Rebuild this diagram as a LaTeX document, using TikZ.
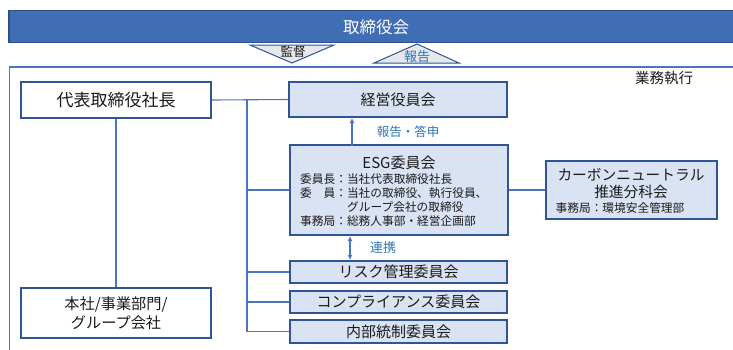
\documentclass[tikz,border=0pt]{standalone}
\usepackage{fontspec}
\setmainfont{Noto Sans CJK JP}
\usetikzlibrary{arrows.meta}
\definecolor{navy}{HTML}{2F5597}
\definecolor{barfill}{HTML}{3F6EB5}
\definecolor{barborder}{HTML}{2E4F8C}
\definecolor{boxfill}{HTML}{DAE3F3}
\definecolor{linecol}{HTML}{4A76C0}
\definecolor{bluetext}{HTML}{2E75B6}
\definecolor{trifill}{HTML}{E6E8EC}
\definecolor{txt}{HTML}{1A1A1A}
\begin{document}
\begin{tikzpicture}[x=1pt,y=-1pt,
  box/.style={draw=navy, line width=2.2pt, fill=boxfill, inner sep=0pt, text=txt, font=\fontsize{15}{17}\selectfont},
  wbox/.style={box, fill=white},
  conn/.style={draw=linecol, line width=1.1pt},
  arr/.style={conn, -{Latex[length=5pt,width=5pt]}},
  darr/.style={conn, {Latex[length=5pt,width=5pt]}-{Latex[length=5pt,width=5pt]}},
  small/.style={inner sep=0pt, text=txt, font=\fontsize{11.7}{13}\selectfont},
  bluelabel/.style={inner sep=0pt, text=bluetext, font=\fontsize{12.5}{14}\selectfont},
  tri/.style={draw=navy, line width=1pt, fill=trifill, line join=miter}
]
\useasboundingbox (0,0) rectangle (733,349);

% board bar
\draw[fill=barfill, draw=barborder, line width=1.6pt] (9,10.5) rectangle (745,42.5);
\node[inner sep=0pt, text=white, font=\fontsize{16.5}{18}\selectfont] (board) at (376,27) {取締役会};

% triangles
\coordinate (kL) at (250,45); \coordinate (kR) at (334,45); \coordinate (kT) at (292,63);
\draw[tri] (kL) -- (kR) -- (kT) -- cycle;
\node[inner sep=0pt, text=txt, font=\fontsize{12.5}{14}\selectfont] (kansa) at (293,52) {監督};
\coordinate (hL) at (374,63); \coordinate (hR) at (459,63); \coordinate (hT) at (417,44);
\draw[tri] (hL) -- (hR) -- (hT) -- cycle;
\node[bluelabel, font=\fontsize{13}{14}\selectfont] (hokoku) at (417,56.5) {報告};

% frame
\coordinate (frTR) at (745,67); \coordinate (frBL) at (9.5,360);
\draw[draw=linecol, line width=1.1pt] (frTR) -| (frBL);
\node[inner sep=0pt, text=txt, font=\fontsize{14.5}{16}\selectfont] (gyomu) at (664,78) {業務執行};

% boxes
\node[wbox, minimum width=190pt, minimum height=36pt, font=\fontsize{17}{19}\selectfont] (daihyo) at (116,100) {代表取締役社長};
\node[wbox, minimum width=190pt, minimum height=50pt, align=center, font=\fontsize{15.2}{19}\selectfont] (honsha) at (116,313) {本社/事業部門/\\グループ会社};
\node[box, minimum width=218pt, minimum height=35pt] (keiei) at (398,99.5) {経営役員会};
\node[box, minimum width=218pt, minimum height=90pt] (esg) at (399,190) {};
\node[box, minimum width=171pt, minimum height=58pt] (carbon) at (631.5,190) {};
\node[box, minimum width=217pt, minimum height=22pt] (risk) at (398.5,272) {リスク管理委員会};
\node[box, minimum width=217pt, minimum height=22pt] (comp) at (398.5,302) {コンプライアンス委員会};
\node[box, minimum width=217pt, minimum height=23pt] (naibu) at (398.5,331.5) {内部統制委員会};

% ESG contents
\node[inner sep=0pt, text=txt, font=\fontsize{15}{17}\selectfont] (esgT) at (399,163) {ESG委員会};
\node[small, anchor=west] (esg1) at (300,179) {委員長：当社代表取締役社長};
\node[small, anchor=west] (esg2) at (300,193) {委　員：当社の取締役、執行役員、};
\node[small, anchor=west] (esg3) at (347,207) {グループ会社の取締役};
\node[small, anchor=west] (esg4) at (300,221) {事務局：総務人事部・経営企画部};

% carbon contents
\node[inner sep=0pt, text=txt, font=\fontsize{14.7}{17}\selectfont] (cb1) at (631,175) {カーボンニュートラル};
\node[inner sep=0pt, text=txt, font=\fontsize{14.7}{17}\selectfont] (cb2) at (631,192) {推進分科会};
\node[small] (cb3) at (620,208) {事務局：環境安全管理部};

% connectors
\coordinate (busT) at (247,100);
\coordinate (busB) at (247,331.5);
\draw[conn] (daihyo.east) -- (keiei.west);
\draw[conn] (busT) -- (busB);
\draw[conn] (busT |- esg.west) -- (esg.west);
\draw[conn] (busT |- risk.west) -- (risk.west);
\draw[conn] (busT |- comp.west) -- (comp.west);
\draw[conn] (busB) -- (naibu.west);
\draw[conn] (esg.east) -- (carbon.west);
\draw[conn] (daihyo.south) -- (honsha.north);
\coordinate (aU1) at (352,146); \coordinate (aU2) at (352,118);
\draw[arr] (aU1) -- (aU2);
\node[bluelabel] (hotoshin) at (408,132) {報告・答申};
\coordinate (aD1) at (350,236); \coordinate (aD2) at (350,260);
\draw[darr] (aD1) -- (aD2);
\node[bluelabel, font=\fontsize{13}{14}\selectfont] (renkei) at (383,248) {連携};
\end{tikzpicture}
\end{document}
